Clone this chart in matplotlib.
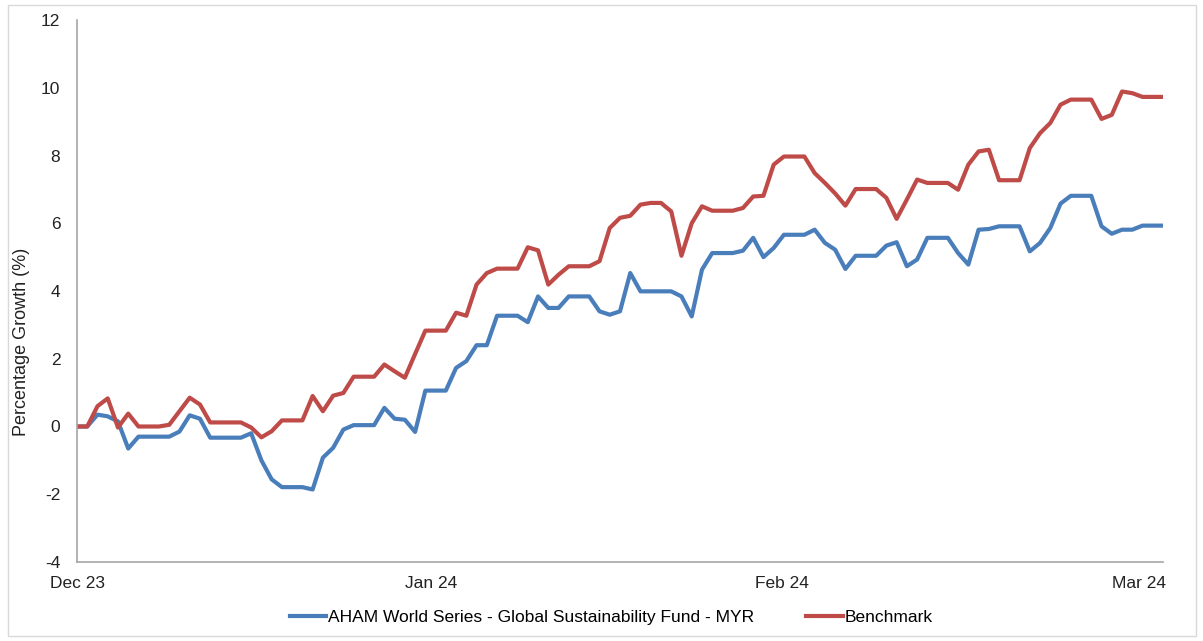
import matplotlib
matplotlib.use("Agg")
import matplotlib.pyplot as plt
from matplotlib.patches import Rectangle
import numpy as np

plt.rcParams["font.family"] = ["Liberation Sans", "DejaVu Sans"]

# ── Series (percentage growth, one value per trading day) ────────────────────
fund = [
    0, 0, 0.35, 0.3, 0.15, -0.65, -0.3, -0.3, -0.3, -0.3,
    -0.15, 0.33, 0.23, -0.33, -0.33, -0.33, -0.33, -0.2, -1.0, -1.56,
    -1.79, -1.79, -1.79, -1.86, -0.92, -0.63, -0.09, 0.04, 0.04, 0.04,
    0.55, 0.23, 0.2, -0.16, 1.06, 1.06, 1.06, 1.73, 1.93, 2.4,
    2.4, 3.27, 3.27, 3.27, 3.08, 3.84, 3.5, 3.5, 3.84, 3.84,
    3.84, 3.4, 3.3, 3.4, 4.53, 3.99, 3.99, 3.99, 3.99, 3.84,
    3.25, 4.63, 5.12, 5.12, 5.12, 5.19, 5.57, 5.0, 5.27, 5.66,
    5.66, 5.66, 5.81, 5.42, 5.22, 4.65, 5.04, 5.04, 5.04, 5.34,
    5.44, 4.73, 4.93, 5.57, 5.57, 5.57, 5.12, 4.78, 5.81, 5.83,
    5.91, 5.91, 5.91, 5.17, 5.42, 5.86, 6.58, 6.81, 6.81, 6.81,
    5.91, 5.69, 5.81, 5.81, 5.93, 5.93, 5.93,
]
benchmark = [
    0, 0, 0.6, 0.83, -0.03, 0.38, 0, 0, 0, 0.05,
    0.45, 0.85, 0.65, 0.12, 0.12, 0.12, 0.12, -0.03, -0.32, -0.14,
    0.18, 0.18, 0.18, 0.9, 0.45, 0.91, 0.99, 1.47, 1.47, 1.47,
    1.83, 1.63, 1.44, 2.14, 2.83, 2.83, 2.83, 3.36, 3.27, 4.19,
    4.53, 4.66, 4.66, 4.66, 5.29, 5.2, 4.19, 4.48, 4.73, 4.73,
    4.73, 4.88, 5.86, 6.16, 6.22, 6.55, 6.6, 6.6, 6.35, 5.04,
    6.0, 6.5, 6.37, 6.37, 6.37, 6.45, 6.79, 6.81, 7.73, 7.97,
    7.97, 7.97, 7.48, 7.19, 6.88, 6.52, 7.01, 7.01, 7.01, 6.75,
    6.13, 6.7, 7.29, 7.19, 7.19, 7.19, 6.99, 7.73, 8.12, 8.17,
    7.27, 7.27, 7.27, 8.22, 8.66, 8.96, 9.5, 9.65, 9.65, 9.65,
    9.08, 9.2, 9.89, 9.84, 9.73, 9.73, 9.73,
]
month_labels = ["Dec 23", "Jan 24", "Feb 24", "Mar 24"]
month_pos = [0, 34.6, 68.8, 103.7]
y_ticks = [-4, -2, 0, 2, 4, 6, 8, 10, 12]

FUND_NAME = "AHAM World Series - Global Sustainability Fund - MYR"
BLUE = "#4a7ebb"
RED = "#be4b48"
AXIS_GREY = "#a6a6a6"
TEXT = "#222222"
FS = 12.5

W, H = 1203, 641
fig = plt.figure(figsize=(W / 100, H / 100), dpi=100)
ax = fig.add_axes([77 / W, 1 - 562 / H, (1163 - 77) / W, (562 - 20) / H])

x = np.arange(len(fund))
ax.plot(x, fund, color=BLUE, lw=3.0, label=FUND_NAME, solid_joinstyle="round")
ax.plot(x, benchmark, color=RED, lw=3.0, label="Benchmark", solid_joinstyle="round")

ax.set_xlim(0, len(fund) - 1)
ax.set_ylim(-4, 12)
ax.set_yticks(y_ticks)
ax.set_yticklabels([str(v) for v in y_ticks])
ax.set_xticks(month_pos)
ax.set_xticklabels(month_labels)
ax.tick_params(axis="y", length=0, pad=12, labelsize=FS, colors=TEXT)
ax.tick_params(axis="x", length=0, pad=10, labelsize=FS, colors=TEXT)

for side in ("top", "right"):
    ax.spines[side].set_visible(False)
for side in ("left", "bottom"):
    ax.spines[side].set_color(AXIS_GREY)
    ax.spines[side].set_linewidth(1.2)

fig.text(22 / W, 1 - 342 / H, "Percentage Growth (%)", rotation=90,
         ha="center", va="center", fontsize=13, color=TEXT)

leg = ax.legend(loc="center", frameon=False, ncol=2, fontsize=FS,
                handlelength=2.1, handletextpad=0.1, columnspacing=3.0)
leg.set_bbox_to_anchor((611 / W, 1 - 617 / H), transform=fig.transFigure)

# thin frame round the whole chart area
fig.patches.append(Rectangle((8 / W, 5 / H), (1196 - 8) / W, (636 - 5) / H,
                             transform=fig.transFigure, fill=False,
                             edgecolor="#d9d9d9", lw=1.0))

fig.savefig("out.png", dpi=100)
